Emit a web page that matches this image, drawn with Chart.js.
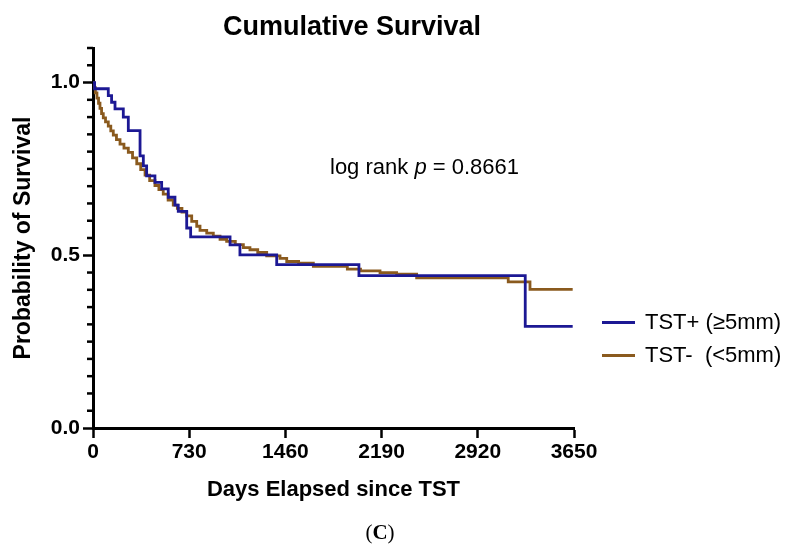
<!DOCTYPE html>
<html>
<head>
<meta charset="utf-8">
<script src="https://cdn.jsdelivr.net/npm/chart.js@4.4.1/dist/chart.umd.min.js"></script>
<style>
  html, body { margin: 0; padding: 0; background: #fff; }
  #wrap { position: relative; width: 800px; height: 548px; font-family: 'Liberation Sans', Arial, sans-serif; color: #000; }
  #grafico { position: absolute; left: 0; top: 0; }
  .txt { position: absolute; white-space: pre; }
  #titulo { left: 0; width: 704px; top: 13px; text-align: center; font-weight: bold; font-size: 27px; line-height: 27px; }
  #logrank { left: 330px; top: 156px; font-size: 22px; line-height: 22px; }
  .leg-line { position: absolute; left: 602px; width: 33px; height: 3px; }
  .leg-txt { left: 645px; font-size: 22px; line-height: 22px; }
  #legenda { left: 0; width: 760px; top: 522px; text-align: center; font-family: 'Liberation Serif', 'DejaVu Serif', serif; font-size: 21px; line-height: 21px; }
</style>
</head>
<body>
<div id="wrap">
  <canvas id="grafico" width="800" height="548"></canvas>
  <div class="txt" id="titulo">Cumulative Survival</div>
  <div class="txt" id="logrank">log rank <i>p</i> = 0.8661</div>
  <div class="leg-line" style="top:321px; background:#1c1894"></div>
  <div class="txt leg-txt" style="top:311px">TST+ (≥5mm)</div>
  <div class="leg-line" style="top:354px; background:#8a5a1e"></div>
  <div class="txt leg-txt" style="top:344px">TST-  (&lt;5mm)</div>
  <div class="txt" id="legenda">(<b>C</b>)</div>
</div>
<script>
// curvas de Kaplan-Meier (dias, sobrevida)
const tstPosDias = [0, 12, 116, 141, 167, 230, 268, 357, 382, 407, 470, 521, 571, 622, 647, 711, 741, 1040, 1115, 1394, 2018, 3280, 3640];
const tstPosSobrev = [1.0, 0.982, 0.962, 0.943, 0.924, 0.9, 0.861, 0.788, 0.759, 0.73, 0.711, 0.692, 0.668, 0.645, 0.627, 0.579, 0.553, 0.53, 0.501, 0.473, 0.441, 0.294, 0.294];

const tstNegDias = [0, 8, 18, 30, 42, 53, 65, 78, 95, 116, 135, 154, 178, 205, 235, 268, 300, 332, 362, 395, 430, 470, 500, 533, 570, 609, 640, 675, 711, 749, 787, 812, 863, 913, 964, 1014, 1080, 1141, 1191, 1250, 1318, 1419, 1470, 1560, 1672, 1930, 2030, 2178, 2304, 2456, 3151, 3316, 3640];
const tstNegSobrev = [1.0, 0.985, 0.97, 0.955, 0.94, 0.925, 0.91, 0.898, 0.886, 0.874, 0.86, 0.848, 0.835, 0.822, 0.81, 0.798, 0.782, 0.765, 0.748, 0.732, 0.716, 0.702, 0.69, 0.677, 0.66, 0.645, 0.636, 0.625, 0.614, 0.598, 0.584, 0.572, 0.564, 0.555, 0.546, 0.54, 0.531, 0.522, 0.516, 0.508, 0.498, 0.491, 0.482, 0.477, 0.468, 0.46, 0.455, 0.45, 0.445, 0.435, 0.423, 0.401, 0.401];

const ticksX = [0, 730, 1460, 2190, 2920, 3650];
const rotulosY = [0, 0.5, 1.0];

const pontos = (xs, ys) => xs.map((x, i) => ({ x: x, y: ys[i] }));
const ehMaior = v => rotulosY.some(r => Math.abs(r - v) < 1e-6);

// ticks menores do eixo y (mais curtos)
const ticksMenores = {
    id: 'ticksMenores',
    afterDraw(chart) {
        const esc = chart.scales.y;
        const ctx = chart.ctx;
        ctx.save();
        ctx.strokeStyle = '#000';
        ctx.lineWidth = 2.5;
        esc.ticks.forEach(t => {
            if (ehMaior(t.value)) return;
            const py = esc.getPixelForValue(t.value);
            ctx.beginPath();
            ctx.moveTo(esc.right - 6, py);
            ctx.lineTo(esc.right, py);
            ctx.stroke();
        });
        ctx.restore();
    }
};

document.addEventListener("DOMContentLoaded", function () {

    const ctx = document.getElementById('grafico');
    Chart.defaults.font.family = "'Liberation Sans', Arial, sans-serif";
    Chart.defaults.color = '#000';

    new Chart(ctx, {
        type: 'line',
        data: {
            datasets: [
                {
                    label: 'TST+ (≥5mm)',
                    data: pontos(tstPosDias, tstPosSobrev),
                    borderColor: '#1c1894',
                    borderWidth: 2.8,
                    stepped: 'before',
                    pointRadius: 0,
                    fill: false
                },
                {
                    label: 'TST-  (<5mm)',
                    data: pontos(tstNegDias, tstNegSobrev),
                    borderColor: '#8a5a1e',
                    borderWidth: 2.8,
                    stepped: 'before',
                    pointRadius: 0,
                    fill: false
                }
            ]
        },
        options: {
            responsive: false,
            animation: false,
            devicePixelRatio: 1,
            layout: { padding: { top: 48, right: 226, left: 0, bottom: 0 } },
            plugins: {
                legend: { display: false },
                title: { display: false },
                tooltip: { enabled: false }
            },
            scales: {
                x: {
                    type: 'linear',
                    min: 0,
                    max: 3650,
                    afterFit: s => { s.height = 120; },
                    afterBuildTicks: s => { s.ticks = ticksX.map(v => ({ value: v })); },
                    border: { display: true, color: '#000', width: 3 },
                    grid: { drawOnChartArea: false, drawTicks: true, tickLength: 10, tickWidth: 2.5, tickColor: '#000' },
                    ticks: {
                        padding: 2,
                        font: { size: 21, weight: 'bold' },
                        maxRotation: 0,
                        autoSkip: false,
                        callback: v => String(v)
                    },
                    title: { display: true, text: 'Days Elapsed since TST', font: { size: 22, weight: 'bold' }, padding: { top: 0, bottom: 45 } }
                },
                y: {
                    min: 0,
                    max: 1.1,
                    afterFit: s => { s.width = 93; },
                    border: { display: true, color: '#000', width: 3 },
                    grid: {
                        drawOnChartArea: false, drawTicks: true, tickLength: 10, tickWidth: 2.5,
                        tickColor: c => (c.tick && ehMaior(c.tick.value)) ? '#000' : 'rgba(0,0,0,0)'
                    },
                    ticks: {
                        stepSize: 0.05,
                        autoSkip: false,
                        padding: 3,
                        font: { size: 21, weight: 'bold' },
                        callback: v => ehMaior(v) ? v.toFixed(1) : ''
                    },
                    title: { display: true, text: 'Probability of Survival', font: { size: 23, weight: 'bold' }, padding: { top: 10, bottom: 0 } }
                }
            }
        },
        plugins: [ticksMenores]
    });

});
</script>
</body>
</html>
